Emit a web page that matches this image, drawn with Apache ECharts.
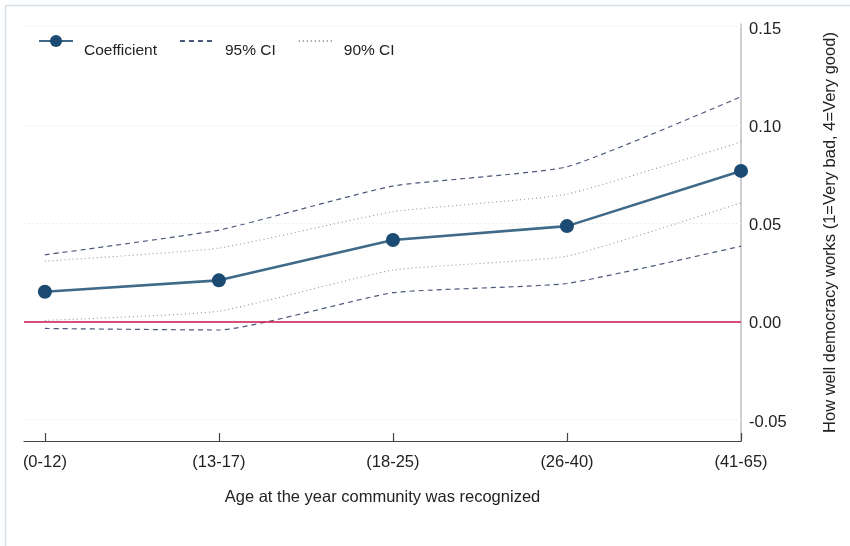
<!DOCTYPE html>
<html>
<head>
<meta charset="utf-8">
<title>Age at recognition and views of democracy</title>
<script src="https://cdn.jsdelivr.net/npm/echarts@6/dist/echarts.min.js"></script>
<style>
  html, body { margin: 0; padding: 0; background: #ffffff; }
  #chart { width: 850px; height: 546px; }
</style>
</head>
<body>
<div id="chart"></div>
<script>
// Age groups at the year the community was recognized
const categories = ['(0-12)', '(13-17)', '(18-25)', '(26-40)', '(41-65)'];

// Point estimates and confidence bounds
const coefficient = [0.0151, 0.0209, 0.0414, 0.0485, 0.0766];
const ci95Upper   = [0.0339, 0.0465, 0.0689, 0.0787, 0.1144];
const ci95Lower   = [-0.0036, -0.0044, 0.0146, 0.0193, 0.0383];
const ci90Upper   = [0.0307, 0.0373, 0.0558, 0.0648, 0.0914];
const ci90Lower   = [0.0005, 0.0052, 0.0261, 0.0332, 0.0604];

// Y-axis tick values
const yTicks = [-0.05, 0.00, 0.05, 0.10, 0.15];

const FONT = 'Liberation Sans, Arial, sans-serif';
const toPairs = arr => arr.map((v, i) => [i, v]);
const xTickValues = categories.map((_, i) => i);

const ci95Style = { color: '#4b5a7a', width: 1.2, type: [5, 4] };
const ci90Style = { color: '#8c929c', width: 1.1, type: [1, 3] };

const chart = echarts.init(document.getElementById('chart'), null, { renderer: 'canvas' });

chart.setOption({
  animation: false,
  backgroundColor: '#ffffff',
  textStyle: { fontFamily: FONT },
  grid: { left: 24, right: 109, top: 24, bottom: 105, containLabel: false },
  legend: {
    left: 33,
    top: 30,
    itemWidth: 34,
    itemHeight: 15,
    itemGap: 22,
    formatter: '{t|{name}}',
    textStyle: {
      fontFamily: FONT, fontSize: 15.5, color: '#222222',
      rich: { t: { fontFamily: FONT, fontSize: 15.5, color: '#222222', padding: [20, 0, 0, 6] } }
    },
    data: [
      { name: 'Coefficient' },
      { name: '95% CI', itemStyle: { opacity: 0 } },
      { name: '90% CI', itemStyle: { opacity: 0 } }
    ]
  },
  xAxis: {
    type: 'value',
    min: -0.12,
    max: 4,
    name: 'Age at the year community was recognized',
    nameLocation: 'middle',
    nameGap: 48,
    nameTextStyle: { fontFamily: FONT, fontSize: 16.5, color: '#222222' },
    axisLine: { show: true, onZero: false, lineStyle: { color: '#444444', width: 1.2 } },
    axisTick: { show: true, inside: true, length: 8, customValues: xTickValues, lineStyle: { color: '#444444', width: 1.2 } },
    axisLabel: {
      customValues: xTickValues,
      margin: 13,
      fontFamily: FONT, fontSize: 16.5, color: '#222222',
      formatter: v => categories[Math.round(v)]
    },
    splitLine: { show: false }
  },
  yAxis: {
    type: 'value',
    position: 'right',
    min: -0.0609,
    max: 0.1514,
    name: 'How well democracy works (1=Very bad, 4=Very good)',
    nameLocation: 'middle',
    nameRotate: 90,
    nameGap: 81,
    nameTextStyle: { fontFamily: FONT, fontSize: 16.5, color: '#222222' },
    axisLine: { show: true, onZero: false, lineStyle: { color: '#c4c4c4', width: 1.6 } },
    axisTick: { show: false },
    axisLabel: {
      customValues: yTicks,
      margin: 8,
      fontFamily: FONT, fontSize: 16.5, color: '#222222',
      formatter: v => '{v|' + v.toFixed(2) + '}',
      rich: { v: { fontFamily: FONT, fontSize: 16.5, color: '#222222', padding: [5, 0, 0, 0] } }
    },
    splitLine: { show: false }
  },
  series: [
    {
      // faint reference grid and the zero line
      name: 'grid',
      type: 'line',
      data: [],
      silent: true,
      markLine: {
        silent: true,
        symbol: 'none',
        label: { show: false },
        data: yTicks.filter(v => v !== 0).map(v => ({
          yAxis: v,
          lineStyle: { color: '#edf0f3', width: 1, type: [2, 2] }
        })).concat([{ yAxis: 0, lineStyle: { color: '#c8174a', width: 1.5, type: 'solid' } }])
      }
    },
    {
      name: '95% CI',
      type: 'line',
      data: toPairs(ci95Upper),
      symbol: 'none',
      smooth: 0.15,
      lineStyle: ci95Style,
      itemStyle: { color: ci95Style.color }
    },
    {
      name: '95% CI',
      type: 'line',
      data: toPairs(ci95Lower),
      symbol: 'none',
      smooth: 0.15,
      lineStyle: ci95Style,
      itemStyle: { color: ci95Style.color }
    },
    {
      name: '90% CI',
      type: 'line',
      data: toPairs(ci90Upper),
      symbol: 'none',
      smooth: 0.15,
      lineStyle: ci90Style,
      itemStyle: { color: ci90Style.color }
    },
    {
      name: '90% CI',
      type: 'line',
      data: toPairs(ci90Lower),
      symbol: 'none',
      smooth: 0.15,
      lineStyle: ci90Style,
      itemStyle: { color: ci90Style.color }
    },
    {
      name: 'Coefficient',
      type: 'line',
      data: toPairs(coefficient),
      symbol: 'circle',
      symbolSize: 14,
      z: 5,
      lineStyle: { color: '#3f6a89', width: 2.6 },
      itemStyle: { color: '#1b4a72', borderWidth: 0 }
    }
  ],
  graphic: [
    { type: 'line', silent: true, shape: { x1: 5, y1: 5.5, x2: 850, y2: 5.5 }, style: { stroke: '#d6dee7', lineWidth: 1.5 } },
    { type: 'line', silent: true, shape: { x1: 5.5, y1: 5, x2: 5.5, y2: 546 }, style: { stroke: '#d6dee7', lineWidth: 1.5 } }
  ]
});
</script>
</body>
</html>
